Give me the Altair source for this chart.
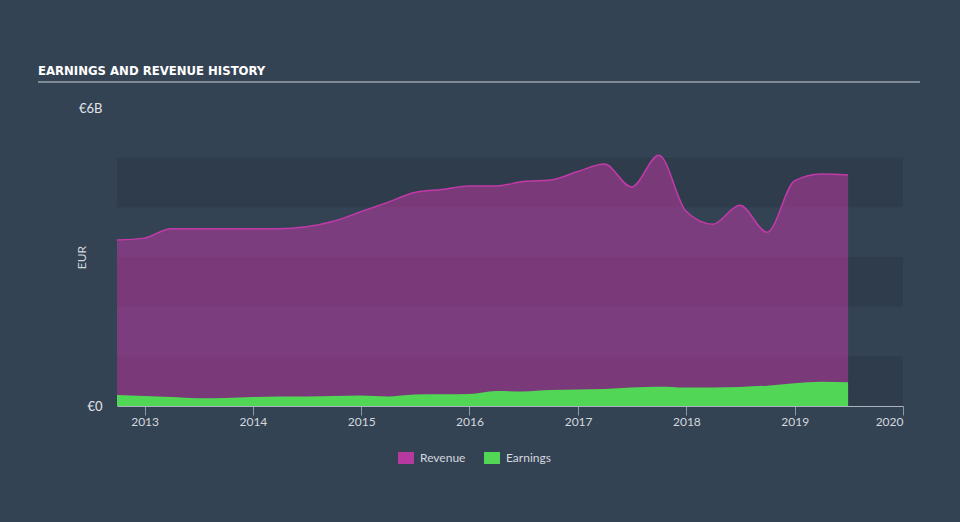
import altair as alt
import pandas as pd

# ---- data (values in EUR billions, quarterly) ----
dates = [
    "2012-09-30", "2012-12-31",
    "2013-03-31", "2013-06-30", "2013-09-30", "2013-12-31",
    "2014-03-31", "2014-06-30", "2014-09-30", "2014-12-31",
    "2015-03-31", "2015-06-30", "2015-09-30", "2015-12-31",
    "2016-03-31", "2016-06-30", "2016-09-30", "2016-12-31",
    "2017-03-31", "2017-06-30", "2017-09-30", "2017-12-31",
    "2018-03-31", "2018-06-30", "2018-09-30", "2018-12-31",
    "2019-03-31", "2019-06-30",
]
revenue_b = [
    3.34, 3.38,
    3.57, 3.57, 3.57, 3.57,
    3.57, 3.61, 3.72, 3.91,
    4.10, 4.30, 4.36, 4.43,
    4.43, 4.52, 4.55, 4.72,
    4.87, 4.41, 5.05, 3.92,
    3.66, 4.04, 3.50, 4.53,
    4.67, 4.65,
]
earnings_b = [
    0.22, 0.20,
    0.18, 0.155, 0.16, 0.18,
    0.19, 0.19, 0.20, 0.21,
    0.19, 0.23, 0.235, 0.24,
    0.30, 0.29, 0.32, 0.33,
    0.34, 0.37, 0.39, 0.375,
    0.375, 0.385, 0.41, 0.46,
    0.49, 0.48,
]
band_lo = [0, 2, 4]
band_hi = [1, 3, 5]
years = list(range(2013, 2021))
series_names = ["Revenue", "Earnings"]
series_colors = ["#b5399f", "#52d655"]
title_text = "EARNINGS AND REVENUE HISTORY"

df = pd.DataFrame({"date": dates, "Revenue": revenue_b, "Earnings": earnings_b})
bands = pd.DataFrame({"lo": band_lo, "hi": band_hi})
title_df = pd.DataFrame({"t": [title_text]})

W, H = 786, 298
BG = "#344354"
BAND = "#2f3c4b"
LABEL = "#d3d8de"

xscale = alt.Scale(domain=[alt.DateTime(year=2012, month=9, date=30),
                           alt.DateTime(year=2020, month=1, date=1)])
yscale = alt.Scale(domain=[0, 6], nice=False, zero=True)
cscale = alt.Scale(domain=series_names, range=series_colors)

x_axis = alt.Axis(
    values=[alt.DateTime(year=y) for y in years], format="%Y", title=None,
    grid=False, domainColor="#aab3bd", domainWidth=1, tickColor="#8d97a3",
    tickSize=9, labelPadding=1, labelColor=LABEL, labelFontSize=12,
    labelFont="Lato", labelFlush=True,
)
y_axis = alt.Axis(
    values=[0, 6], labelExpr="datum.value == 0 ? '€0' : '€6B'", title="EUR",
    grid=False, domain=False, ticks=False, labelPadding=15,
    labelColor="#e2e5e9", labelFontSize=13, labelFont="Lato",
    titleColor=LABEL, titleFontSize=12, titleFont="Lato", titleFontWeight="normal",
    titleX=-36, titleY=H / 2, titleAngle=-90, titleBaseline="middle",
)
legend = alt.Legend(
    title=None, orient="none", legendX=281, legendY=342, direction="horizontal",
    symbolType="M-1,-0.75L1,-0.75L1,0.75L-1,0.75Z", symbolSize=256,
    symbolStrokeWidth=0, symbolOpacity=1, labelColor=LABEL, labelFontSize=12,
    labelFont="Lato", labelOffset=6, columnPadding=18, padding=0,
)

band_layer = alt.Chart(bands).mark_rect(color=BAND).encode(
    y=alt.Y("lo:Q", scale=yscale, axis=y_axis),
    y2="hi:Q",
    x=alt.value(0),
    x2=alt.value(W),
)

rev_area = alt.Chart(df).transform_calculate(series="'Revenue'").mark_area(
    interpolate="monotone", fillOpacity=0.56
).encode(
    x=alt.X("date:T", scale=xscale, axis=x_axis),
    y=alt.Y("Revenue:Q", scale=yscale, axis=y_axis),
    color=alt.Color("series:N", scale=cscale, legend=legend),
)

rev_line = alt.Chart(df).mark_line(
    interpolate="monotone", color="#c13aa7", strokeWidth=1.5
).encode(
    x=alt.X("date:T", scale=xscale, axis=x_axis),
    y=alt.Y("Revenue:Q", scale=yscale, axis=y_axis),
)

earn_area = alt.Chart(df).transform_calculate(series="'Earnings'").mark_area(
    interpolate="monotone", fillOpacity=1
).encode(
    x=alt.X("date:T", scale=xscale, axis=x_axis),
    y=alt.Y("Earnings:Q", scale=yscale, axis=y_axis),
    color=alt.Color("series:N", scale=cscale, legend=legend),
)

title_layer = alt.Chart(title_df).mark_text(
    align="left", baseline="alphabetic", font="DejaVu Sans Condensed",
    fontWeight="bold", fontSize=13, color="#ffffff",
).encode(text="t:N", x=alt.value(-79), y=alt.value(-33))

title_rule = alt.Chart(title_df).mark_rule(color="#9aa3ad", strokeWidth=1.5).encode(
    x=alt.value(-79), x2=alt.value(W + 17), y=alt.value(-26)
)

chart = alt.layer(
    band_layer, rev_area, rev_line, earn_area, title_layer, title_rule
).properties(
    width=W, height=H, autosize="none",
    padding={"left": 117, "top": 108, "right": 57, "bottom": 116},
    background=BG,
).configure_view(strokeWidth=0)

chart.save("out.html", embed_options={"renderer": "svg", "actions": False})
